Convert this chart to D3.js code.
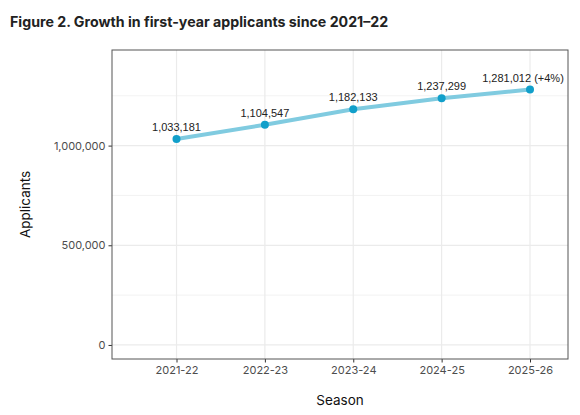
<!DOCTYPE html>
<html>
<head>
<meta charset="utf-8">
<script src="https://cdn.jsdelivr.net/npm/d3@7"></script>
<style>
  html, body { margin: 0; padding: 0; background: #fff; }
  svg { display: block; }
</style>
</head>
<body>
<div id="chart"></div>
<script>
// chart data
const seasons = ["2021-22", "2022-23", "2023-24", "2024-25", "2025-26"];
const applicants = [1033181, 1104547, 1182133, 1237299, 1281012];
const pointLabels = ["1,033,181", "1,104,547", "1,182,133", "1,237,299", "1,281,012 (+4%)"];
const yTicks = [0, 500000, 1000000];
const yMinor = [250000, 750000, 1250000];

const width = 580, height = 415;
const panel = { left: 112, right: 568, top: 50, bottom: 359 };

let svg = d3.select("#chart")
            .append("svg")
            .attr("width", width)
            .attr("height", height);

// title
svg.append("text")
   .attr("x", 10)
   .attr("y", 27)
   .attr("font-family", "Inter, sans-serif")
   .attr("font-weight", 700)
   .attr("font-size", 14.2)
   .attr("fill", "#222")
   .text("Figure 2. Growth in first-year applicants since 2021\u201322");

// scales (ggplot-like expansion)
let yMax = d3.max(applicants) * 1.1;
let yPad = yMax * 0.05;
let y = d3.scaleLinear()
          .domain([-yPad, yMax + yPad])
          .range([panel.bottom, panel.top]);

let x = d3.scaleLinear()
          .domain([-0.73, seasons.length - 1 + 0.43])
          .range([panel.left, panel.right]);

// grid
let grid = svg.append("g");
grid.selectAll(".minor")
    .data(yMinor)
    .join("line")
    .attr("x1", panel.left).attr("x2", panel.right)
    .attr("y1", d => y(d)).attr("y2", d => y(d))
    .attr("stroke", "#ebebeb").attr("stroke-width", 0.6);
grid.selectAll(".major")
    .data(yTicks)
    .join("line")
    .attr("x1", panel.left).attr("x2", panel.right)
    .attr("y1", d => y(d)).attr("y2", d => y(d))
    .attr("stroke", "#ebebeb").attr("stroke-width", 1.2);
grid.selectAll(".vert")
    .data(seasons)
    .join("line")
    .attr("x1", (d, i) => x(i)).attr("x2", (d, i) => x(i))
    .attr("y1", panel.top).attr("y2", panel.bottom)
    .attr("stroke", "#ebebeb").attr("stroke-width", 1.2);

// axes
let yAxis = svg.append("g")
   .attr("transform", `translate(${panel.left},0)`)
   .call(d3.axisLeft(y).tickValues(yTicks).tickSize(3.5).tickPadding(3)
           .tickFormat(d3.format(",")));
let xAxis = svg.append("g")
   .attr("transform", `translate(0,${panel.bottom})`)
   .call(d3.axisBottom(x).tickValues(d3.range(seasons.length)).tickSize(3.5).tickPadding(4)
           .tickFormat(i => seasons[i]));

[yAxis, xAxis].forEach(a => {
  a.select(".domain").remove();
  a.selectAll(".tick line").attr("stroke", "#333").attr("stroke-width", 1);
  a.selectAll(".tick text")
   .attr("fill", "#4d4d4d")
   .attr("font-family", "Inter, sans-serif")
   .attr("font-size", 11);
});

// panel border
svg.append("rect")
   .attr("x", panel.left).attr("y", panel.top)
   .attr("width", panel.right - panel.left)
   .attr("height", panel.bottom - panel.top)
   .attr("fill", "none")
   .attr("stroke", "#555").attr("stroke-width", 1);

// line
let line = d3.line()
             .x((d, i) => x(i))
             .y(d => y(d));
svg.append("path")
   .datum(applicants)
   .attr("d", line)
   .attr("fill", "none")
   .attr("stroke", "#80cbe0")
   .attr("stroke-width", 4)
   .attr("stroke-linecap", "butt");

// points
svg.selectAll(".pt")
   .data(applicants)
   .join("circle")
   .attr("cx", (d, i) => x(i))
   .attr("cy", d => y(d))
   .attr("r", 4)
   .attr("fill", "#119fca");

// labels
svg.selectAll(".lbl")
   .data(applicants)
   .join("text")
   .attr("x", (d, i) => x(i) + (i === applicants.length - 1 ? -7 : 0))
   .attr("y", d => y(d) - 8)
   .attr("text-anchor", "middle")
   .attr("font-family", "Liberation Sans, Arial, sans-serif")
   .attr("font-size", 11)
   .attr("fill", "#222")
   .text((d, i) => pointLabels[i]);

// axis titles
svg.append("text")
   .attr("x", (panel.left + panel.right) / 2)
   .attr("y", 405)
   .attr("text-anchor", "middle")
   .attr("font-family", "Inter, sans-serif")
   .attr("font-size", 13.5)
   .attr("fill", "#111")
   .text("Season");

svg.append("text")
   .attr("transform", `translate(30,${(panel.top + panel.bottom) / 2}) rotate(-90)`)
   .attr("text-anchor", "middle")
   .attr("font-family", "Inter, sans-serif")
   .attr("font-size", 13.5)
   .attr("fill", "#111")
   .text("Applicants");
</script>
</body>
</html>
